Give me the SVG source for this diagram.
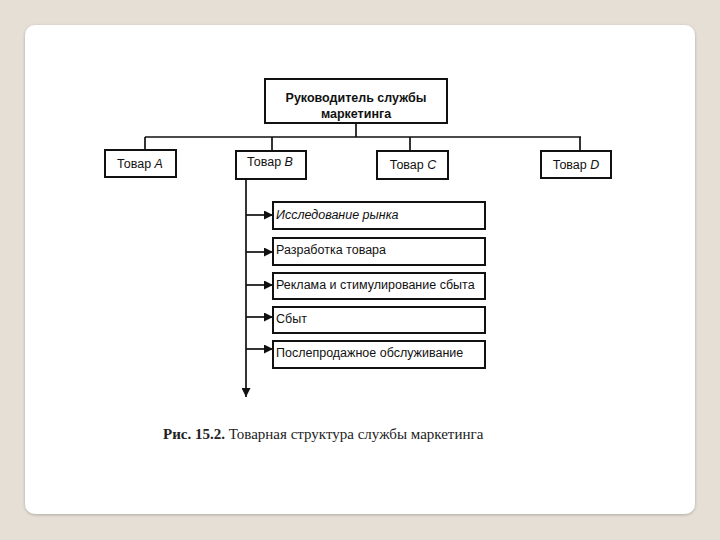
<svg xmlns="http://www.w3.org/2000/svg" width="720" height="540" viewBox="0 0 720 540">
<defs>
<style>
.box{fill:#fff;stroke:#111;stroke-width:2}
.ln{stroke:#111;stroke-width:1.7;fill:none}
.t{font-family:"Liberation Sans",Arial,sans-serif;font-size:12.5px;fill:#111}
.b{font-weight:bold}
</style>
<marker id="ah" viewBox="0 0 10 10" refX="10" refY="5" markerWidth="11" markerHeight="9" markerUnits="userSpaceOnUse" orient="auto">
<path d="M0,0 L10,5 L0,10 z" fill="#111"/>
</marker>
<marker id="ahd" viewBox="0 0 10 10" refX="10" refY="5" markerWidth="14" markerHeight="9" markerUnits="userSpaceOnUse" orient="auto">
<path d="M0,0 L10,5 L0,10 z" fill="#111"/>
</marker>
<filter id="sh" x="-5%" y="-5%" width="110%" height="110%">
<feDropShadow dx="0" dy="1" stdDeviation="1.5" flood-color="#000" flood-opacity="0.25"/>
</filter>
</defs>
<rect width="720" height="540" fill="#e5dfd6"/>
<rect x="25" y="25" width="670" height="489" rx="10" fill="#fff" filter="url(#sh)"/>
<g id="connectors">
<path class="ln" d="M356,123 V137 M145,137 H581 M145,137 V150 M272,137 V151 M410,137 V151 M580,137 V151"/>
<path class="ln" d="M246,179 V397" marker-end="url(#ahd)"/>
<path class="ln" d="M246,215 H273" marker-end="url(#ah)"/>
<path class="ln" d="M246,252 H273" marker-end="url(#ah)"/>
<path class="ln" d="M246,285 H273" marker-end="url(#ah)"/>
<path class="ln" d="M246,317 H273" marker-end="url(#ah)"/>
<path class="ln" d="M246,349 H273" marker-end="url(#ah)"/>
</g>
<g id="head">
<rect class="box" x="265" y="79" width="182" height="44"/>
<text class="t b" x="356" y="102" text-anchor="middle">Руководитель службы</text>
<text class="t b" x="356" y="118" text-anchor="middle">маркетинга</text>
</g>
<g id="tovarA">
<rect class="box" x="105" y="150" width="71" height="27"/>
<text class="t" x="140" y="168" text-anchor="middle">Товар <tspan font-style="italic">A</tspan></text>
</g>
<g id="tovarB">
<rect class="box" x="236" y="151" width="70" height="28"/>
<text class="t" x="270" y="166" text-anchor="middle">Товар <tspan font-style="italic">B</tspan></text>
</g>
<g id="tovarC">
<rect class="box" x="377" y="151" width="71" height="28"/>
<text class="t" x="413" y="169" text-anchor="middle">Товар <tspan font-style="italic">C</tspan></text>
</g>
<g id="tovarD">
<rect class="box" x="541" y="151" width="70" height="27"/>
<text class="t" x="576" y="169" text-anchor="middle">Товар <tspan font-style="italic">D</tspan></text>
</g>
<g id="f1">
<rect class="box" x="273" y="202" width="212" height="27"/>
<text class="t" x="276" y="219" font-style="italic">Исследование рынка</text>
</g>
<g id="f2">
<rect class="box" x="273" y="238" width="212" height="27"/>
<text class="t" x="276" y="254">Разработка товара</text>
</g>
<g id="f3">
<rect class="box" x="273" y="273" width="212" height="26"/>
<text class="t" x="276" y="289">Реклама и стимулирование сбыта</text>
</g>
<g id="f4">
<rect class="box" x="273" y="307" width="212" height="26"/>
<text class="t" x="276" y="323">Сбыт</text>
</g>
<g id="f5">
<rect class="box" x="273" y="341" width="212" height="27"/>
<text class="t" x="276" y="357">Послепродажное обслуживание</text>
</g>
<text x="163" y="439" font-family="'Liberation Serif','Times New Roman',serif" font-size="15" fill="#222"><tspan font-weight="bold">Рис. 15.2.</tspan> Товарная структура службы маркетинга</text>
</svg>
